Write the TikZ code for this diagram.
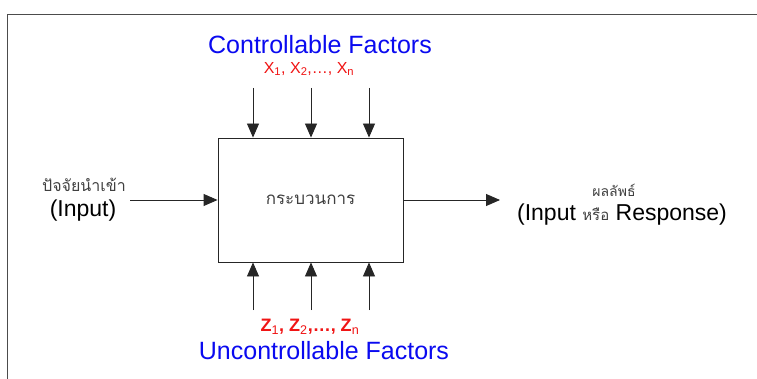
\documentclass[tikz,border=0pt]{standalone}
\usepackage{fontspec}
\setmainfont{Liberation Sans}
\newfontfamily\thaifont[Script=Thai]{Loma}
\usetikzlibrary{arrows.meta}
\definecolor{cblue}{RGB}{10,10,240}
\definecolor{cred}{RGB}{240,20,20}
\tikzset{
  arr/.style={draw=black!85, line width=0.9pt, -{Triangle[width=12pt,length=14pt]}},
  proc/.style={draw=black!85, line width=0.9pt, minimum width=185pt, minimum height=124pt, inner sep=0pt},
  bluetxt/.style={text=cblue, font=\fontsize{25}{28}\selectfont, inner sep=0pt},
  redtxt/.style={text=cred, inner sep=0pt},
  thai/.style={text=black!75, font=\thaifont\fontsize{16}{18}\selectfont, inner sep=0pt},
  lbl/.style={text=black, font=\fontsize{23}{26}\selectfont, inner sep=0pt}
}
\begin{document}
\begin{tikzpicture}[x=1pt,y=-1pt]
\useasboundingbox (0,0) rectangle (757,379);
\fill[white] (0,0) rectangle (757,379);
% frame
\draw[black!70, line width=1pt] (7,379) -- (7,15) -- (757,15);
% process box
\node[proc] (box) at (310.5,200) {};
\node[thai, font=\thaifont\fontsize{17}{19}\selectfont] (proc) at (310.5,200) {กระบวนการ};
% top labels
\node[bluetxt] (ctrl) at (320,45) {Controllable Factors};
\node[redtxt, font=\fontsize{16}{19}\selectfont] (xs) at (309,69) {X\textsubscript{1}, X\textsubscript{2},\dots, X\textsubscript{n}};
% bottom labels
\node[redtxt, font=\bfseries\fontsize{18}{21}\selectfont] (zs) at (310,327) {Z\textsubscript{\mdseries 1}, Z\textsubscript{\mdseries 2},\dots, Z\textsubscript{\mdseries n}};
\node[bluetxt] (unctrl) at (324,351) {Uncontrollable Factors};
% top arrows
\coordinate (t1) at (253,88);
\coordinate (t2) at (311,88);
\coordinate (t3) at (369,88);
\draw[arr] (t1) -- (t1 |- box.north);
\draw[arr] (t2) -- (t2 |- box.north);
\draw[arr] (t3) -- (t3 |- box.north);
% bottom arrows
\coordinate (b1) at (253,310);
\coordinate (b2) at (311,310);
\coordinate (b3) at (369,310);
\draw[arr] (b1) -- (b1 |- box.south);
\draw[arr] (b2) -- (b2 |- box.south);
\draw[arr] (b3) -- (b3 |- box.south);
% input
\node[thai] (inth) at (84,185) {ปัจจัยนำเข้า};
\node[lbl] (inp) at (83,211) {(Input)};
\coordinate (inS) at (130,200);
\draw[arr] (inS) -- (box.west);
% output
\coordinate (outE) at (500,200);
\draw[arr] (box.east) -- (outE);
\node[thai, font=\thaifont\fontsize{14}{16}\selectfont] (outth) at (614,190) {ผลลัพธ์};
\node[lbl] (outp) at (622,215) {(Input {\thaifont\fontsize{15}{17}\selectfont\color{black!75}หรือ} Response)};
\end{tikzpicture}
\end{document}
